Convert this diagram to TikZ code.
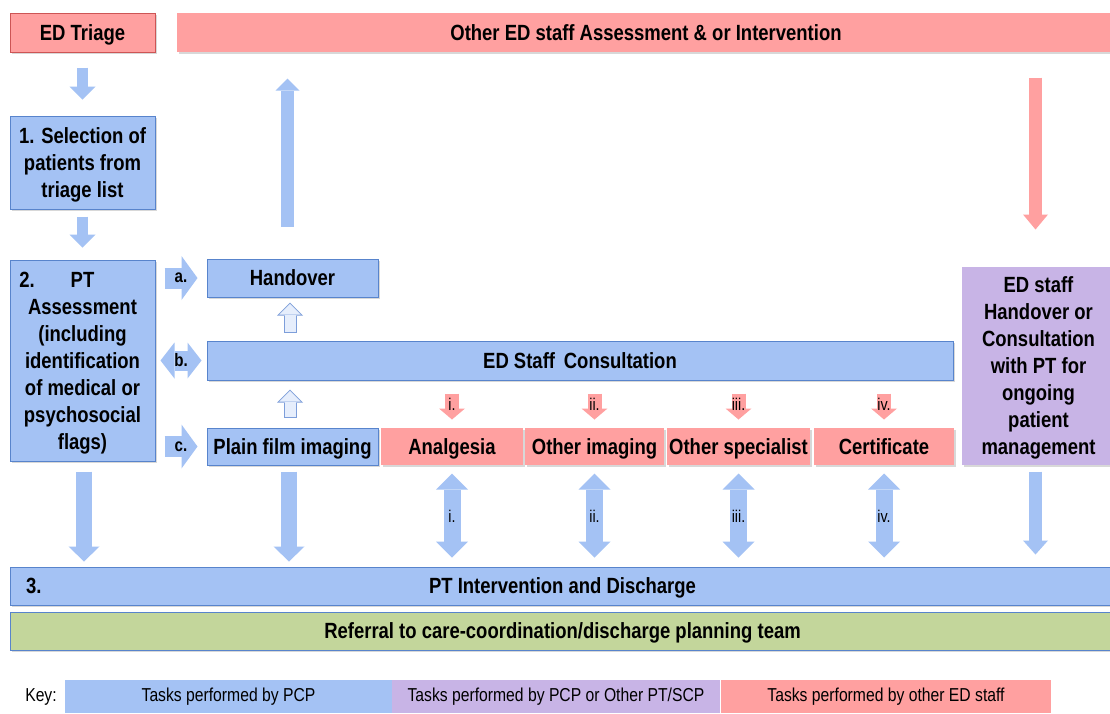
\documentclass[tikz,border=0pt]{standalone}
\usepackage{fontspec}
\setmainfont{Liberation Sans}[FakeStretch=0.84]
\usetikzlibrary{arrows.meta,shadows,calc}

\definecolor{pcpblue}{RGB}{164,194,244}
\definecolor{pcpline}{RGB}{88,132,204}
\definecolor{edpink}{RGB}{255,160,160}
\definecolor{edline}{RGB}{205,85,85}
\definecolor{sharepurple}{RGB}{200,180,230}
\definecolor{refgreen}{RGB}{195,214,155}
\definecolor{paleblue}{RGB}{230,238,252}
\definecolor{paleline}{RGB}{125,158,218}

\newcommand{\bigfont}{\fontsize{22}{27}\selectfont\bfseries}
\newcommand{\tagfont}{\fontsize{18}{20}\selectfont\bfseries}
\newcommand{\numfont}{\fontsize{17}{19}\selectfont}
\newcommand{\keyfont}{\fontsize{18.7}{20}\selectfont}

\tikzset{
  task/.style={font=\bigfont, align=center, inner sep=0pt, line width=1pt, text depth=0pt,
    drop shadow={shadow xshift=1.5pt, shadow yshift=-2pt, opacity=.3}},
  pcp/.style={task, fill=pcpblue, draw=pcpline},
  edstaff/.style={task, fill=edpink},
  shared/.style={task, fill=sharepurple},
  keybox/.style={font=\keyfont, inner sep=0pt, minimum height=33pt},
  fatflow/.style n args={4}{draw=#1, line width=#2,
    -{Triangle[width=#3, length=#4, line width=0pt]}},
  twoway/.style n args={4}{draw=#1, line width=#2,
    {Triangle[width=#3, length=#4, line width=0pt]}-{Triangle[width=#3, length=#4, line width=0pt]}},
}

\begin{document}
\begin{tikzpicture}[x=1pt, y=-1pt]
\clip (0,0) rectangle (1110,713);
\fill[white] (0,0) rectangle (1110,713);

% top row
\node[edstaff, draw=edline, minimum width=145pt, minimum height=39pt] (triage) at (82.5,32.5) {ED Triage};
\node[edstaff, minimum width=938pt, minimum height=39pt] (other) at (646,32.5) {Other ED staff Assessment \& or Intervention};

% PT steps
\node[pcp, minimum width=145pt, minimum height=93pt] (sel) at (82.5,162.5) {1. Selection of\\patients from\\triage list};
\node[pcp, minimum width=145pt, minimum height=201pt] (assess) at (82.5,360.5)
  {\llap{2.\hspace{36pt}}PT\\Assessment\\(including\\identification\\of medical or\\psychosocial\\flags)};

% middle
\node[pcp, minimum width=171pt, minimum height=38pt] (hand) at (292.5,278) {Handover};
\node[pcp, minimum width=746pt, minimum height=39pt] (cons) at (580,360.5) {ED Staff\, Consultation};
\node[pcp, minimum width=171pt, minimum height=37pt] (plain) at (292.5,446.5) {Plain film imaging};
\node[edstaff, minimum width=142pt, minimum height=37pt] (analg) at (452,446.5) {Analgesia};
\node[edstaff, minimum width=139pt, minimum height=37pt] (oimg) at (594.5,446.5) {Other imaging};
\node[edstaff, minimum width=143pt, minimum height=37pt] (ospec) at (738.5,446.5) {Other specialist};
\node[edstaff, minimum width=140pt, minimum height=37pt] (cert) at (884,446.5) {Certificate};
\node[shared, minimum width=153pt, minimum height=198pt] (mgmt) at (1038.5,366)
  {ED staff\\Handover or\\Consultation\\with PT for\\ongoing\\patient\\management};

% bottom
\node[pcp, minimum width=1105pt, minimum height=38pt] (interv) at (562.5,586) {PT Intervention and Discharge};
\node[font=\bigfont, text depth=0pt, anchor=west] (three) at ([xshift=13pt]interv.west) {3.};
\node[pcp, fill=refgreen, minimum width=1105pt, minimum height=38pt] (refer) at (562.5,631)
  {Referral to care-coordination/discharge planning team};

% key
\node[font=\keyfont] (key) at (41,697) {Key:};
\node[keybox, fill=pcpblue, minimum width=327pt] (kpcp) at (228.5,696.5) {Tasks performed by PCP};
\node[keybox, fill=sharepurple, minimum width=328pt] (kshared) at (556,696.5) {Tasks performed by PCP or Other PT/SCP};
\node[keybox, fill=edpink, minimum width=330pt] (ked) at (886,696.5) {Tasks performed by other ED staff};

% block arrows
\draw[fatflow={pcpblue}{11pt}{26pt}{13pt}, shorten <=15pt, shorten >=16pt] (triage.south) -- (sel.north);
\draw[fatflow={pcpblue}{11pt}{26pt}{13pt}, shorten <=7pt, shorten >=12pt] (sel.south) -- (assess.north);
\draw[fatflow={pcpblue}{13pt}{24pt}{12pt}, shorten <=32pt, shorten >=26pt]
  ([xshift=-5pt]hand.north) -- ([xshift=-5pt]hand.north |- other.south);
\draw[fatflow={edpink}{13pt}{25pt}{15pt}, shorten <=25pt, shorten >=37pt]
  ([xshift=-3pt]mgmt.north |- other.south) -- ([xshift=-3pt]mgmt.north);

% a. b. c.
\draw[fatflow={pcpblue}{21pt}{44pt}{16pt}, shorten <=9pt, shorten >=9pt]
  (assess.east |- hand.west) -- node[font=\tagfont] {a.} (hand.west);
\draw[twoway={pcpblue}{20pt}{36pt}{14pt}, shorten <=5pt, shorten >=5pt]
  (cons.west) -- node[font=\tagfont] {b.} (assess.east |- cons.west);
\draw[fatflow={pcpblue}{21pt}{44pt}{16pt}, shorten <=9pt, shorten >=9pt]
  (assess.east |- plain.west) -- node[font=\tagfont] {c.} (plain.west);

% hollow arrows into the consultation column
\draw[fatflow={paleline}{13pt}{26pt}{13pt}, shorten <=8pt, shorten >=5pt]
  ([xshift=-2.5pt]hand.south |- cons.north) -- ([xshift=-2.5pt]hand.south);
\draw[fatflow={paleblue}{11pt}{21.2pt}{10.6pt}, shorten <=9pt, shorten >=6.4pt]
  ([xshift=-2.5pt]hand.south |- cons.north) -- ([xshift=-2.5pt]hand.south);
\draw[fatflow={paleline}{13pt}{26pt}{13pt}, shorten <=10pt, shorten >=9pt]
  ([xshift=-2.5pt]plain.north) -- ([xshift=-2.5pt]plain.north |- cons.south);
\draw[fatflow={paleblue}{11pt}{21.2pt}{10.6pt}, shorten <=11pt, shorten >=10.4pt]
  ([xshift=-2.5pt]plain.north) -- ([xshift=-2.5pt]plain.north |- cons.south);

% ED staff tasks
\foreach \b/\t in {analg/i., oimg/ii., ospec/iii., cert/iv.} {
  \draw[fatflow={edpink}{14pt}{26pt}{11pt}, shorten <=13pt, shorten >=8pt]
    (\b.north |- cons.south) -- node[font=\numfont] {\t} (\b.north);
  \draw[twoway={pcpblue}{17pt}{32pt}{16pt}, shorten <=8pt, shorten >=9pt]
    (\b.south) -- node[font=\numfont] {\t} (\b.south |- interv.north);
}

% into intervention
\draw[fatflow={pcpblue}{16pt}{31pt}{15pt}, shorten <=10pt, shorten >=5pt]
  ([xshift=1.5pt]assess.south) -- ([xshift=1.5pt]assess.south |- interv.north);
\draw[fatflow={pcpblue}{16pt}{31pt}{15pt}, shorten <=6pt, shorten >=5pt]
  ([xshift=-3.5pt]plain.south) -- ([xshift=-3.5pt]plain.south |- interv.north);
\draw[fatflow={pcpblue}{13pt}{25pt}{14pt}, shorten <=6pt, shorten >=12pt]
  ([xshift=-3pt]mgmt.south) -- ([xshift=-3pt]mgmt.south |- interv.north);
\end{tikzpicture}
\end{document}
